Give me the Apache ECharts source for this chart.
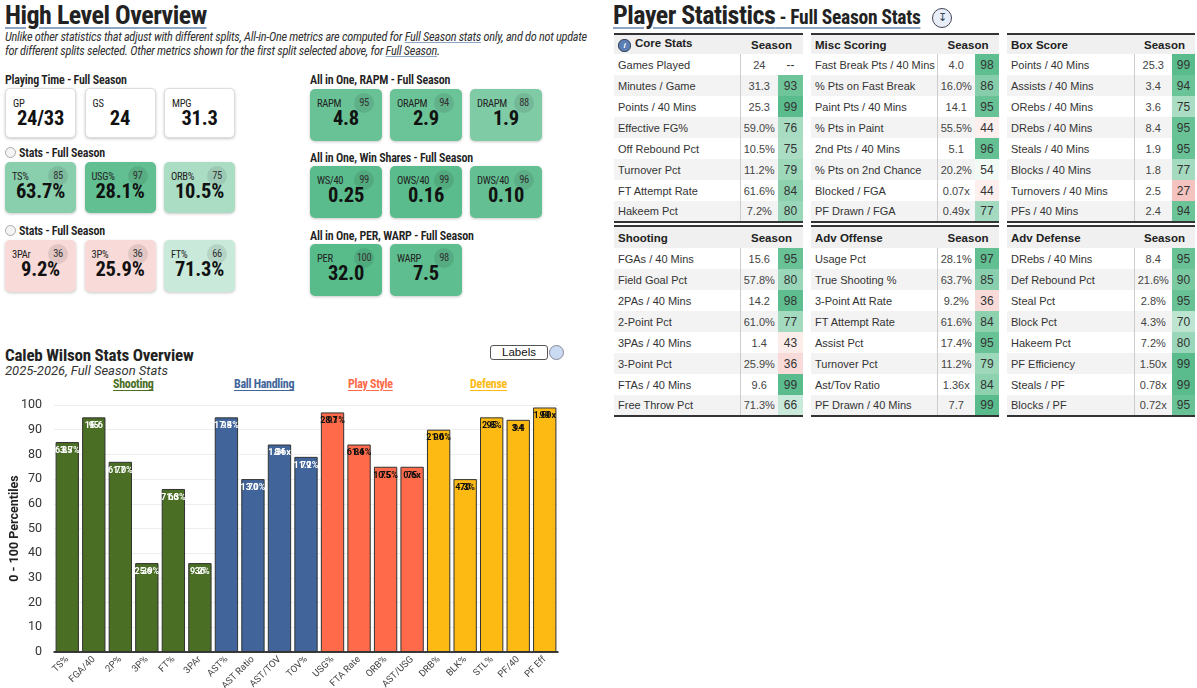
<!DOCTYPE html>
<html><head><meta charset="utf-8">
<script src="https://cdn.jsdelivr.net/npm/echarts@6/dist/echarts.min.js"></script>
<style>
body{margin:0;width:1197px;height:688px;position:relative;background:#fff;overflow:hidden;font-family:Roboto,"Liberation Sans",sans-serif;color:#222}
.abs{position:absolute}
.cond{font-family:"Roboto Condensed","Liberation Sans Narrow","Arial Narrow",Roboto,sans-serif}
.bigtitle{font-weight:700;font-size:26px;letter-spacing:-0.5px;text-decoration:underline;text-decoration-color:#8ea6c6;text-decoration-thickness:2px;text-underline-offset:3px;white-space:nowrap}
.note{font-style:italic;font-size:12.4px;letter-spacing:-0.3px;color:#333;line-height:14px;white-space:nowrap}
.note u{text-decoration-color:#8ea6c6}
.sec{font-size:12px;font-weight:600;letter-spacing:-0.2px;color:#222;white-space:nowrap}
.card{position:absolute;border-radius:5px;box-shadow:0 1px 3px rgba(0,0,0,.22);overflow:hidden}
.card .lb{position:absolute;left:7px;top:8px;font-size:10.5px;letter-spacing:-0.3px;color:#222}
.card .bd{position:absolute;width:20px;height:20px;border-radius:10px;top:4px;right:8px;background:rgba(0,0,0,.09);font-size:10.5px;letter-spacing:-0.4px;text-align:center;line-height:20px;color:#333}
.card .vl{position:absolute;left:0;right:0;top:17px;text-align:center;font-size:20.5px;font-weight:700;color:#111;letter-spacing:-0.2px}
.radio{display:inline-block;width:9px;height:9px;border:1px solid #aaa;border-radius:6px;margin-right:3px;vertical-align:-1px;background:#f4f4f4}
table.st{position:absolute;border-collapse:collapse;font-family:"Liberation Sans",Arial,sans-serif;font-size:11px;color:#333;table-layout:fixed}
table.st td{padding:0;white-space:nowrap;overflow:hidden}
table.st tr.hd td{background:#f0f0f0;font-weight:700;font-size:11.5px;color:#222;border-top:2px solid #333}
table.st tr.last td{border-bottom:2px solid #333}
table.st td.l{padding-left:4px;border-right:1px solid #ccc}
table.st tr.hd td.l{border-right:none}
table.st td.v{text-align:center;color:#444}
table.st td.p{text-align:center;font-size:12px;color:#333}
.info{display:inline-block;width:11px;height:11px;border-radius:6px;background:#5b7fb5;color:#fff;font-size:8px;line-height:11px;text-align:center;font-style:italic;margin-right:4px;vertical-align:-1px;border:1px solid #345}
.grp{position:absolute;top:377px;font-size:12px;font-weight:700;letter-spacing:-0.3px;text-decoration:underline;text-underline-offset:2px;white-space:nowrap}
</style></head>
<body>
<div id="left"></div>
<div id="chart" class="abs" style="left:0;top:340px;width:600px;height:348px"></div>
<div id="right"></div>
<script>
// ---------- data ----------
const playingTime = [['GP','24/33'],['GS','24'],['MPG','31.3']];
const statsCards1 = [['TS%','63.7%',85],['USG%','28.1%',97],['ORB%','10.5%',75]];
const statsCards2 = [['3PAr','9.2%',36],['3P%','25.9%',36],['FT%','71.3%',66]];
const rapmCards = [['RAPM','4.8',95],['ORAPM','2.9',94],['DRAPM','1.9',88]];
const wsCards = [['WS/40','0.25',99],['OWS/40','0.16',99],['DWS/40','0.10',96]];
const perCards = [['PER','32.0',100],['WARP','7.5',98]];

const categories = ['TS%','FGA/40','2P%','3P%','FT%','3PAr','AST%','AST Ratio','AST/TOV','TOV%','USG%','FTA Rate','ORB%','AST/USG','DRB%','BLK%','STL%','PF/40','PF Eff'];
const percentiles = [85,95,77,36,66,36,95,70,84,79,97,84,75,75,90,70,95,94,99];
const statLabels = ['63.7%','15.6','61.0%','25.9%','71.3%','9.2%','17.4%','13.0%','1.36x','11.2%','28.1%','61.6%','10.5%','0.6x','21.6%','4.3%','2.8%','3.4','1.50x'];
const groups = ['Shooting','Shooting','Shooting','Shooting','Shooting','Shooting','Ball Handling','Ball Handling','Ball Handling','Ball Handling','Play Style','Play Style','Play Style','Play Style','Defense','Defense','Defense','Defense','Defense'];
const groupNames = ['Shooting','Ball Handling','Play Style','Defense'];

const coreStats = [['Games Played','24',null],['Minutes / Game','31.3',93],['Points / 40 Mins','25.3',99],['Effective FG%','59.0%',76],['Off Rebound Pct','10.5%',75],['Turnover Pct','11.2%',79],['FT Attempt Rate','61.6%',84],['Hakeem Pct','7.2%',80]];
const miscScoring = [['Fast Break Pts / 40 Mins','4.0',98],['% Pts on Fast Break','16.0%',86],['Paint Pts / 40 Mins','14.1',95],['% Pts in Paint','55.5%',44],['2nd Pts / 40 Mins','5.1',96],['% Pts on 2nd Chance','20.2%',54],['Blocked / FGA','0.07x',44],['PF Drawn / FGA','0.49x',77]];
const boxScore = [['Points / 40 Mins','25.3',99],['Assists / 40 Mins','3.4',94],['ORebs / 40 Mins','3.6',75],['DRebs / 40 Mins','8.4',95],['Steals / 40 Mins','1.9',95],['Blocks / 40 Mins','1.8',77],['Turnovers / 40 Mins','2.5',27],['PFs / 40 Mins','2.4',94]];
const shooting = [['FGAs / 40 Mins','15.6',95],['Field Goal Pct','57.8%',80],['2PAs / 40 Mins','14.2',98],['2-Point Pct','61.0%',77],['3PAs / 40 Mins','1.4',43],['3-Point Pct','25.9%',36],['FTAs / 40 Mins','9.6',99],['Free Throw Pct','71.3%',66]];
const advOffense = [['Usage Pct','28.1%',97],['True Shooting %','63.7%',85],['3-Point Att Rate','9.2%',36],['FT Attempt Rate','61.6%',84],['Assist Pct','17.4%',95],['Turnover Pct','11.2%',79],['Ast/Tov Ratio','1.36x',84],['PF Drawn / 40 Mins','7.7',99]];
const advDefense = [['DRebs / 40 Mins','8.4',95],['Def Rebound Pct','21.6%',90],['Steal Pct','2.8%',95],['Block Pct','4.3%',70],['Hakeem Pct','7.2%',80],['PF Efficiency','1.50x',99],['Steals / PF','0.78x',99],['Blocks / PF','0.72x',95]];

// ---------- helpers ----------
function pctColor(p){
  if(p==null) return '#ffffff';
  let c, t;
  if(p>=50){ t=Math.min(1,(p-50)/50); c=[87,187,138]; }
  else { t=(50-p)/50; c=[230,124,115]; }
  const m=c.map(v=>Math.round(255+(v-255)*t));
  return 'rgb('+m.join(',')+')';
}
const L=document.getElementById('left');
function add(html){L.insertAdjacentHTML('beforeend',html);}
function cards(list,x0,y,w,h,step,plain){
  list.forEach((c,i)=>{
    const x=x0+i*step;
    const bg=plain?'#fff':pctColor(c[2]);
    const border=plain?'border:1px solid #ddd;':'';
    add('<div class="card cond" style="left:'+x+'px;top:'+y+'px;width:'+w+'px;height:'+h+'px;background:'+bg+';'+border+'">'+
      '<div class="lb">'+c[0]+'</div>'+(plain?'':'<div class="bd">'+c[2]+'</div>')+
      '<div class="vl">'+c[1]+'</div></div>');
  });
}
// ---------- left top ----------
add('<div class="abs bigtitle cond" style="left:5px;top:0px">High Level Overview</div>');
add('<div class="abs note cond" style="left:5px;top:30px">Unlike other statistics that adjust with different splits, All-in-One metrics are computed for <u>Full Season stats</u> only, and do not update<br>for different splits selected. Other metrics shown for the first split selected above, for <u>Full Season</u>.</div>');
add('<div class="abs sec cond" style="left:5px;top:73px">Playing Time - Full Season</div>');
cards(playingTime,5,88,69,48,79.5,true);
add('<div class="abs sec cond" style="left:5px;top:146px"><span class="radio"></span>Stats - Full Season</div>');
cards(statsCards1,5,162,71,51,79.5,false);
add('<div class="abs sec cond" style="left:5px;top:224px"><span class="radio"></span>Stats - Full Season</div>');
cards(statsCards2,5,240,71,52,79.5,false);
add('<div class="abs sec cond" style="left:310px;top:73px">All in One, RAPM - Full Season</div>');
cards(rapmCards,310,89,72,52,80,false);
add('<div class="abs sec cond" style="left:310px;top:151px">All in One, Win Shares - Full Season</div>');
cards(wsCards,310,166,72,52,80,false);
add('<div class="abs sec cond" style="left:310px;top:229px">All in One, PER, WARP - Full Season</div>');
cards(perCards,310,244,72,52,80,false);

// chart headers
add('<div class="abs cond" style="left:5px;top:345px;font-size:17px;font-weight:700;letter-spacing:-0.2px;color:#222">Caleb Wilson Stats Overview</div>');
add('<div class="abs" style="left:5px;top:363px;font-size:13px;font-style:italic;color:#333">2025-2026, Full Season Stats</div>');
const grpColors={'Shooting':'#4a6e24','Ball Handling':'#41659a','Play Style':'#fe6a4a','Defense':'#fdba12'};
const grpX=[113,234,348,470];
groupNames.forEach((g,i)=>add('<div class="grp cond" style="left:'+grpX[i]+'px;color:'+grpColors[g]+';text-decoration-color:'+grpColors[g]+'">'+g+'</div>'));
add('<div class="abs" style="left:490px;top:345px;width:56px;height:13px;border:1px solid #555;border-radius:3px;font-size:11.5px;line-height:13px;text-align:center;color:#111;font-family:\'Liberation Sans\',Arial">Labels</div>');
add('<div class="abs" style="left:549px;top:345px;width:13px;height:13px;border:1px solid #889;border-radius:8px;background:#c9daf3"></div>');

// ---------- right side tables ----------
const R=document.getElementById('right');
R.insertAdjacentHTML('beforeend','<div class="abs cond" style="left:613px;top:0px;white-space:nowrap;text-decoration:underline;text-decoration-color:#8ea6c6;text-decoration-thickness:2px;text-underline-offset:3px"><span style="font-size:26px;font-weight:700;letter-spacing:-0.5px">Player Statistics</span><span style="font-size:19.5px;font-weight:700;letter-spacing:-0.3px"> - Full Season Stats</span></div>');
R.insertAdjacentHTML('beforeend','<div class="abs" style="left:932px;top:8px;width:18px;height:18px;border:1px solid #445;border-radius:10px;background:#e8eef7;text-align:center;font-size:11px;line-height:18px;color:#345">&#8615;</div>');
function table(x,y,w,cols,title,rows,hh,icon){
  let h='<table class="st" style="left:'+x+'px;top:'+y+'px;width:'+w+'px">';
  h+='<colgroup><col style="width:'+cols[0]+'px"><col style="width:'+cols[1]+'px"><col style="width:'+cols[2]+'px"></colgroup>';
  h+='<tr class="hd" style="height:'+hh+'px"><td class="l">'+(icon?'<span class="info">i</span>':'')+title+'</td><td colspan="2" style="text-align:center">Season</td></tr>';
  rows.forEach((r,i)=>{
    const bg=i%2===1?'#f3f3f3':'#fff';
    h+='<tr class="'+(i===rows.length-1?'last':'')+'" style="height:21px;background:'+bg+'"><td class="l">'+r[0]+'</td><td class="v">'+r[1]+'</td><td class="p" style="background:'+(r[2]==null?bg:pctColor(r[2]))+'">'+(r[2]==null?'--':r[2])+'</td></tr>';
  });
  h+='</table>';
  R.insertAdjacentHTML('beforeend',h);
}
table(614,33,189,[126,38,25],'Core Stats',coreStats,20,true);
table(811,33,188,[126,38,24],'Misc Scoring',miscScoring,20,false);
table(1007,33,188,[127,38,23],'Box Score',boxScore,20,false);
table(614,225,189,[126,38,25],'Shooting',shooting,22,false);
table(811,225,188,[126,38,24],'Adv Offense',advOffense,22,false);
table(1007,225,188,[127,38,23],'Adv Defense',advDefense,22,false);

// ---------- chart ----------
const labelColors={'Shooting':'#fff','Ball Handling':'#fff','Play Style':'#111','Defense':'#111'};
const chart=echarts.init(document.getElementById('chart'));
chart.setOption({
  animation:false,
  grid:{left:54,right:42,top:65,bottom:36,containLabel:false,outerBoundsMode:'none'},
  xAxis:{type:'category',data:categories,axisLine:{lineStyle:{color:'#000',width:1.5}},axisTick:{show:false},
    axisLabel:{rotate:45,fontSize:9.5,color:'#444',interval:0,margin:6,fontFamily:'Roboto'}},
  yAxis:{type:'value',min:0,max:100,interval:10,name:'0 - 100 Percentiles',nameLocation:'middle',nameGap:33,nameMoveOverlap:false,
    nameTextStyle:{fontWeight:'bold',fontSize:12.5,color:'#222',fontFamily:'Roboto'},
    axisLabel:{fontSize:12.5,color:'#333',fontFamily:'Roboto',margin:12},axisLine:{show:false},axisTick:{show:false},
    splitLine:{lineStyle:{color:'#eeeeee'}}},
  series:[
    {type:'bar',barCategoryGap:'12%',
     data:percentiles.map((v,i)=>({value:v,itemStyle:{color:grpColors[groups[i]]},label:{color:labelColors[groups[i]]}})),
     itemStyle:{borderColor:'#333',borderWidth:1},
     label:{show:true,position:'insideTop',distance:4,fontSize:9,fontWeight:'bold',fontFamily:'Roboto',
       formatter:p=>statLabels[p.dataIndex]}},
    {type:'bar',barGap:'-100%',barCategoryGap:'12%',
     data:percentiles.map((v,i)=>({value:v,label:{color:labelColors[groups[i]]}})),
     itemStyle:{color:'rgba(0,0,0,0)'},
     label:{show:true,position:'insideTop',distance:4,fontSize:9,fontWeight:'bold',fontFamily:'Roboto',formatter:'{c}'}}
  ]
});
</script>
</body></html>
